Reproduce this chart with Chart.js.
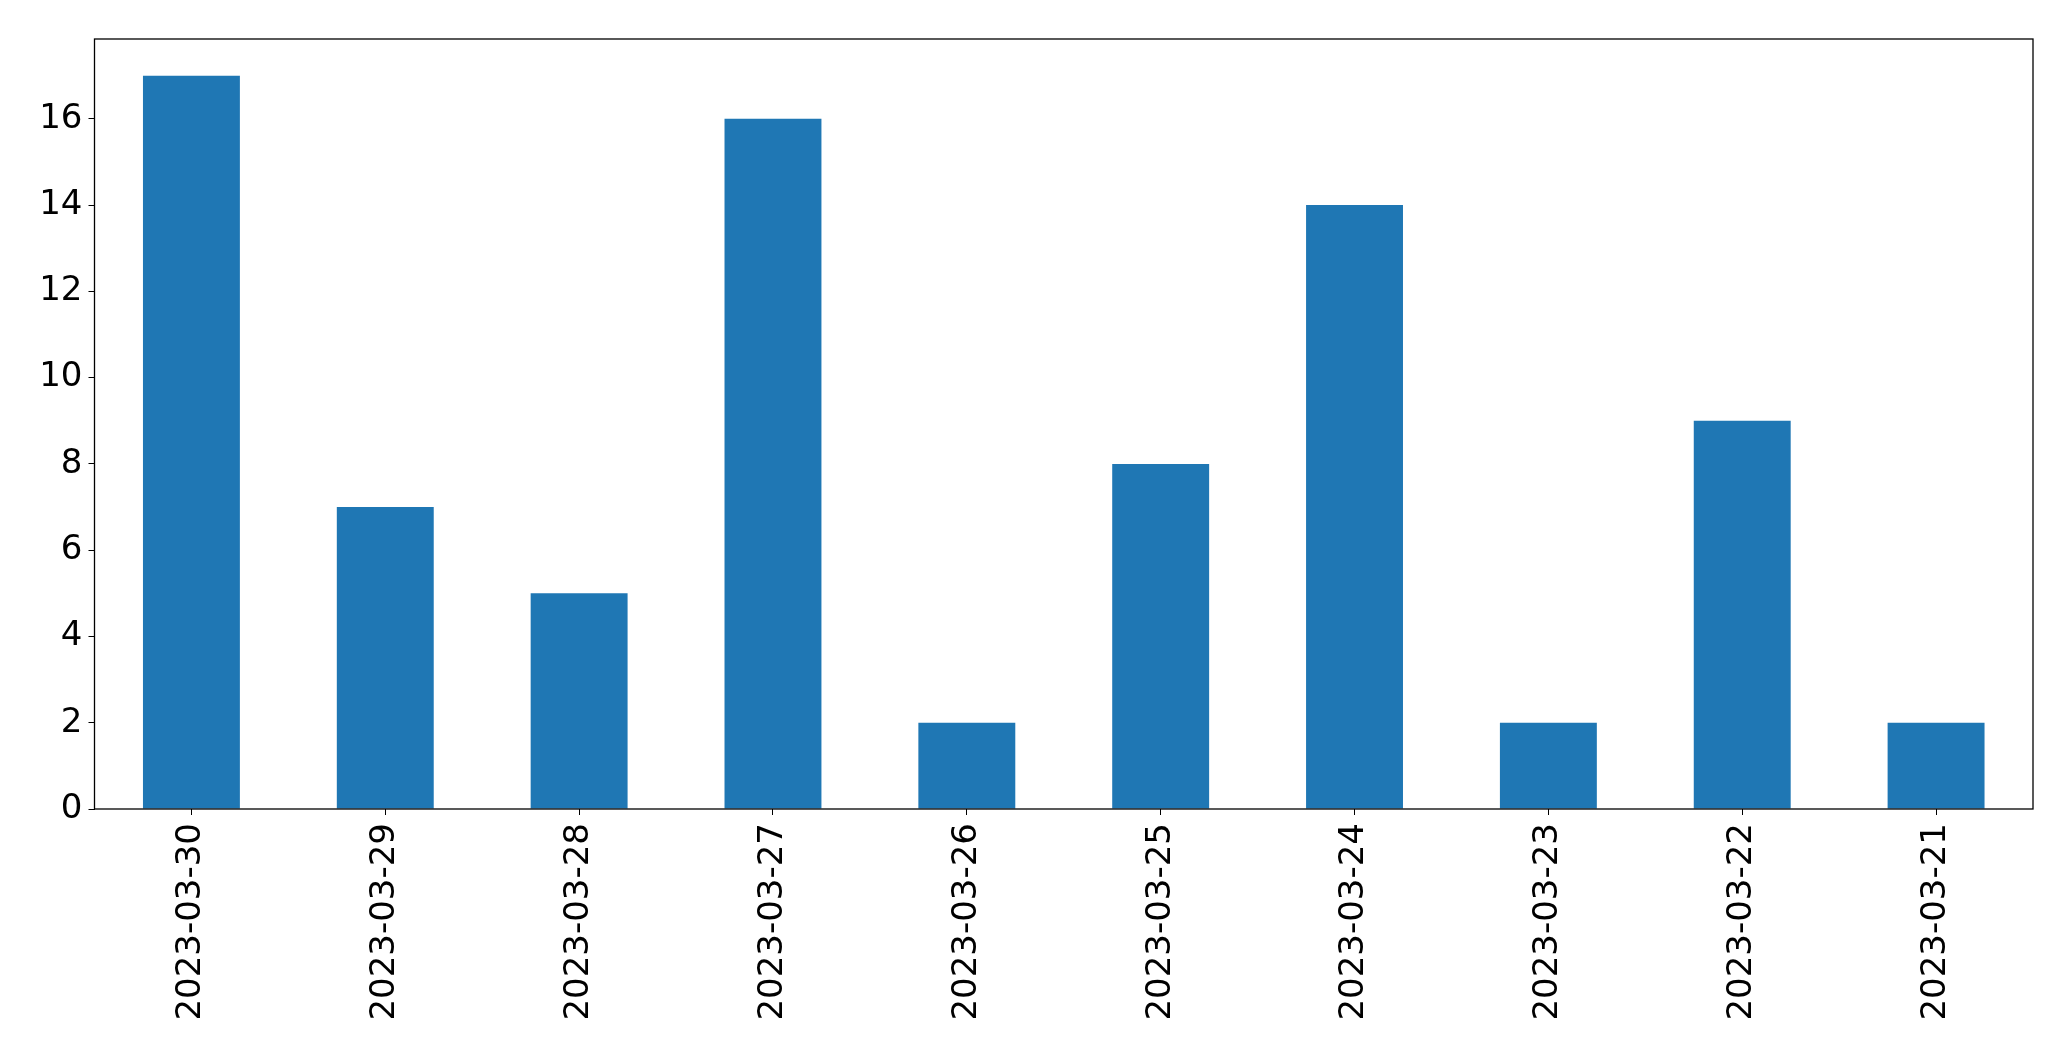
<!DOCTYPE html>
<html>
<head>
<meta charset="utf-8">
<script src="https://cdn.jsdelivr.net/npm/chart.js@4/dist/chart.umd.min.js"></script>
<style>
  html, body { margin: 0; padding: 0; background: #fff; }
  canvas { display: block; }
</style>
</head>
<body>
<canvas id="barChart" width="2071" height="1061"></canvas>
<script>
// values
var dates = ['2023-03-30', '2023-03-29', '2023-03-28', '2023-03-27', '2023-03-26',
             '2023-03-25', '2023-03-24', '2023-03-23', '2023-03-22', '2023-03-21'];
var counts = [17, 7, 5, 16, 2, 8, 14, 2, 9, 2];
var yTickValues = [0, 2, 4, 6, 8, 10, 12, 14, 16];

// draws the box round the plot, like matplotlib's spines
var frameBox = {
    id: 'frameBox',
    afterDraw: function(chart) {
        var a = chart.chartArea;
        var ctx = chart.ctx;
        ctx.save();
        ctx.strokeStyle = '#000';
        ctx.lineWidth = 1.3;
        ctx.strokeRect(a.left, a.top, a.right - a.left, a.bottom - a.top);
        ctx.restore();
    }
};

function initializeBarChart() {
    const ctx = document.getElementById('barChart').getContext('2d');
    Chart.defaults.font.family = '"DejaVu Sans", sans-serif';
    Chart.defaults.color = '#000';

    new Chart(ctx, {
        type: 'bar',
        data: {
            labels: dates,
            datasets: [{
                data: counts,
                backgroundColor: '#1f77b4',
                borderWidth: 0,
                categoryPercentage: 0.5,
                barPercentage: 1.0
            }]
        },
        options: {
            responsive: false,
            animation: false,
            layout: { padding: { left: 0, top: 39, right: 38, bottom: 0 } },
            plugins: { legend: { display: false }, tooltip: { enabled: false } },
            scales: {
                x: {
                    offset: true,
                    grid: { drawOnChartArea: false, drawTicks: true, tickLength: 6, color: '#000', offset: false },
                    border: { display: false },
                    ticks: { font: { size: 34 }, minRotation: 90, maxRotation: 90, padding: 8, color: '#000' },
                    afterFit: function(scale) { scale.height = 1061 - 809; }
                },
                y: {
                    min: 0,
                    max: 17.85,
                    grid: { drawOnChartArea: false, drawTicks: true, tickLength: 6, color: '#000' },
                    border: { display: false },
                    ticks: { font: { size: 34 }, padding: 6, color: '#000' },
                    afterBuildTicks: function(scale) {
                        scale.ticks = yTickValues.map(function(v) { return { value: v }; });
                    },
                    afterFit: function(scale) { scale.width = 94.5; }
                }
            }
        },
        plugins: [frameBox]
    });
}

document.addEventListener('DOMContentLoaded', initializeBarChart);
</script>
</body>
</html>
